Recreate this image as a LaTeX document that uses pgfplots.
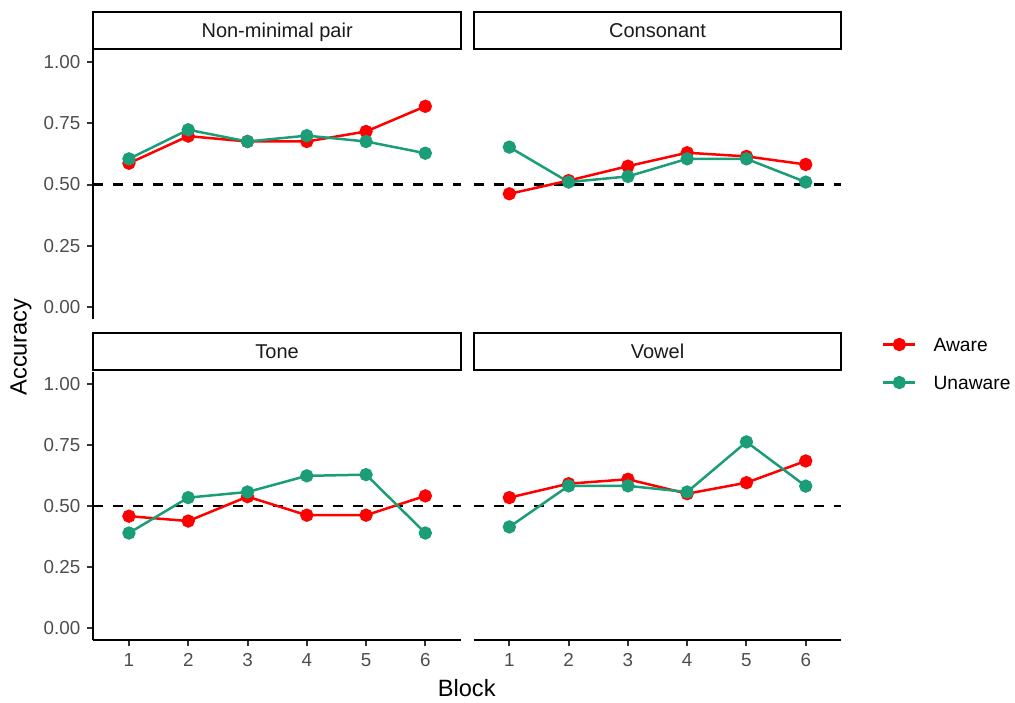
\documentclass[border=0pt]{standalone}
\usepackage{pgfplots}
\pgfplotsset{compat=1.18}
\usepackage{fontspec}
\setmainfont{Liberation Sans}
\definecolor{awarec}{HTML}{FF0000}
\definecolor{unawarec}{HTML}{1B9E77}
\definecolor{gray30}{HTML}{4D4D4D}
\definecolor{gray20}{HTML}{333333}
\definecolor{gray10}{HTML}{1A1A1A}

\newcommand{\strip}[1]{%
  \draw[line width=1pt, black] ([yshift=0.6pt]rel axis cs:0,1) rectangle ([yshift=19.1pt]rel axis cs:1,1);
  \node[anchor=base, font=\fontsize{10}{12}\selectfont, text=gray10] at ([yshift=6.4pt]rel axis cs:0.5,1) {#1};
}

\pgfplotsset{
  panel/.style={
    scale only axis, width=183.75pt, height=134.4pt,
    xmin=0.4, xmax=6.6, ymin=-0.05, ymax=1.05,
    clip=false,
    axis lines=left, axis line style={-, line width=1pt, black},
    xtick={1,2,3,4,5,6}, xticklabels={1,2,3,4,5,6},
    ytick={0,0.25,0.5,0.75,1}, yticklabels={0.00,0.25,0.50,0.75,1.00},
    tick align=outside, major tick length=3pt,
    every tick/.style={line width=1pt, gray20},
    ticklabel style={font=\fontsize{9.4}{11}\selectfont, text=gray30},
    anchor=south west,
  },
  noxaxis/.style={xmajorticks=false, x axis line style={draw=none}},
  noyaxis/.style={ymajorticks=false, y axis line style={draw=none}},
  aw/.style={color=awarec, line width=1.25pt, mark=*, mark size=2.7pt, mark options={solid, fill=awarec}},
  un/.style={color=unawarec, line width=1.25pt, mark=*, mark size=2.7pt, mark options={solid, fill=unawarec}},
  hl/.style={black, line width=1.1pt, dash pattern=on 5pt off 5pt, forget plot},
}

\begin{document}
\begin{tikzpicture}
\useasboundingbox (0pt,0pt) rectangle (507.5pt,-351pt);

% Top-left: Non-minimal pair
\begin{axis}[panel, noxaxis, at={(46.7pt,-159.45pt)}]
  \addplot[hl] coordinates {(0.4,0.5) (6.6,0.5)};
  \addplot[aw] coordinates {(1,0.587)(2,0.698)(3,0.676)(4,0.676)(5,0.717)(6,0.820)};
  \addplot[un] coordinates {(1,0.605)(2,0.724)(3,0.676)(4,0.700)(5,0.676)(6,0.628)};
  \strip{Non-minimal pair}
\end{axis}

% Top-right: Consonant
\begin{axis}[panel, noxaxis, noyaxis, at={(236.9pt,-159.45pt)}]
  \addplot[hl] coordinates {(0.4,0.5) (6.6,0.5)};
  \addplot[aw] coordinates {(1,0.462)(2,0.516)(3,0.575)(4,0.630)(5,0.615)(6,0.582)};
  \addplot[un] coordinates {(1,0.653)(2,0.510)(3,0.533)(4,0.605)(5,0.605)(6,0.510)};
  \strip{Consonant}
\end{axis}

% Bottom-left: Tone
\begin{axis}[panel, at={(46.7pt,-320.15pt)}]
  \addplot[hl] coordinates {(0.4,0.5) (6.6,0.5)};
  \addplot[aw] coordinates {(1,0.458)(2,0.438)(3,0.538)(4,0.462)(5,0.462)(6,0.541)};
  \addplot[un] coordinates {(1,0.389)(2,0.534)(3,0.557)(4,0.623)(5,0.628)(6,0.389)};
  \strip{Tone}
\end{axis}

% Bottom-right: Vowel
\begin{axis}[panel, noyaxis, at={(236.9pt,-320.15pt)},
  legend style={at={(axis description cs:1.11,1.0297)}, anchor=west, draw=none, fill=none,
    font=\fontsize{9.6}{11}\selectfont, row sep=8pt, column sep=6.5pt, inner sep=0pt,
    nodes={text height=7pt, text depth=0pt}},
  legend cell align=left,
  legend image code/.code={\draw[mark repeat=2, mark phase=2] plot coordinates {(0pt,0pt) (8pt,0pt) (16pt,0pt)};},
]
  \addplot[hl] coordinates {(0.4,0.5) (6.6,0.5)};
  \addplot[aw] coordinates {(1,0.534)(2,0.591)(3,0.609)(4,0.550)(5,0.595)(6,0.684)};
  \addlegendentry{Aware}
  \addplot[un] coordinates {(1,0.414)(2,0.582)(3,0.582)(4,0.557)(5,0.762)(6,0.581)};
  \addlegendentry{Unaware}
  \strip{Vowel}
\end{axis}

\node[rotate=90, anchor=base, font=\fontsize{11.8}{14}\selectfont] at (13.3pt,-173.5pt) {Accuracy};
\node[anchor=base, font=\fontsize{11.8}{14}\selectfont] at (233.35pt,-348.3pt) {Block};
\end{tikzpicture}
\end{document}
